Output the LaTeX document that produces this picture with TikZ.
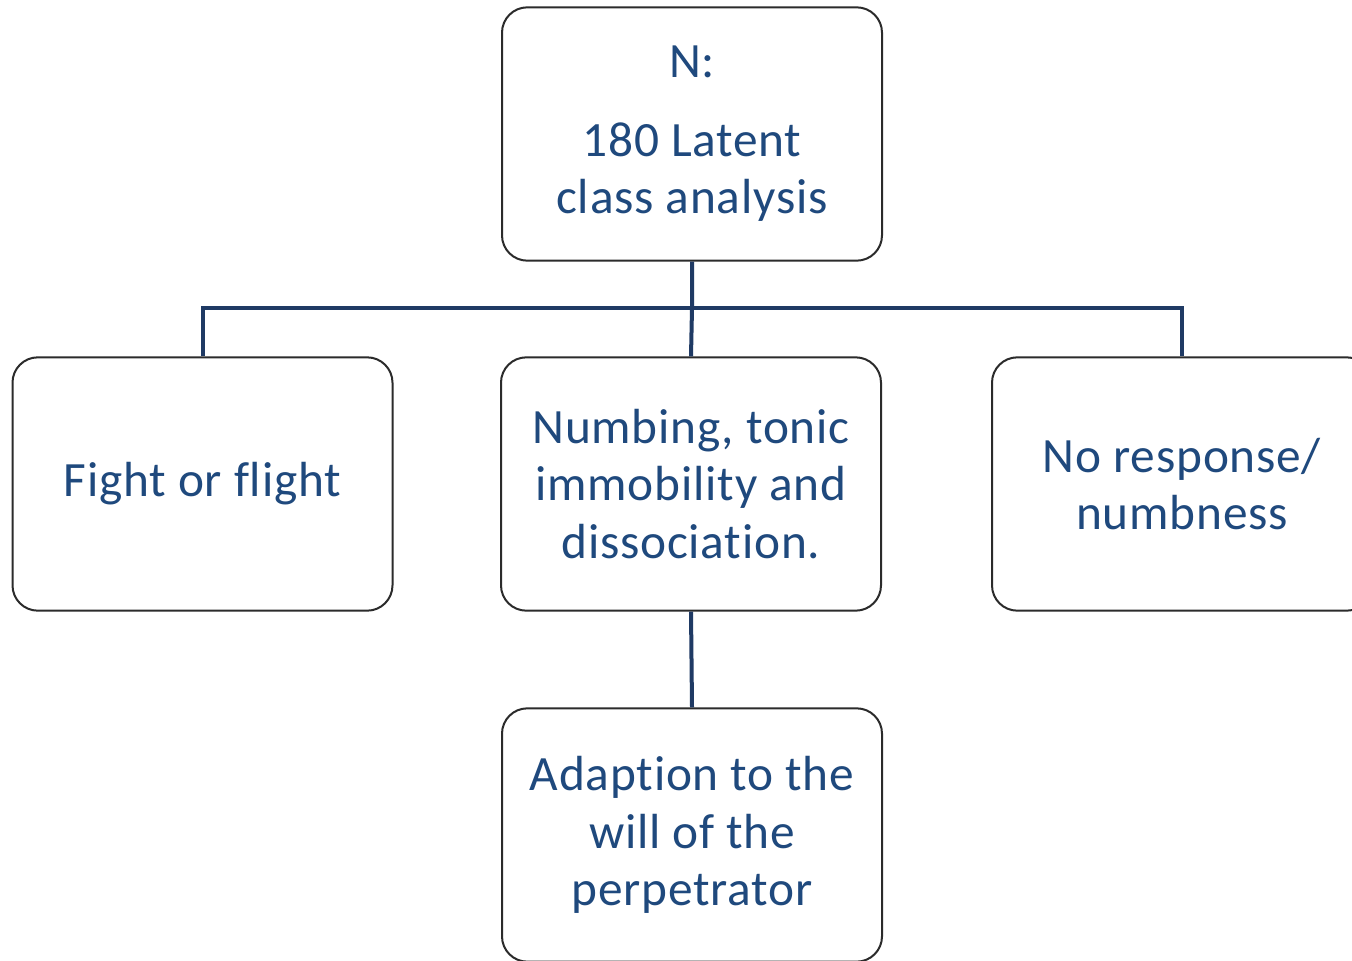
\documentclass[tikz,border=0pt]{standalone}
\usepackage{fontspec}
\setmainfont{Carlito}[LetterSpace=1.6, Ligatures=NoCommon]
\definecolor{textblue}{HTML}{1F497D}
\definecolor{linknavy}{HTML}{1F3A64}
\definecolor{boxedge}{HTML}{2B2B2B}
\tikzset{
  classbox/.style={draw=boxedge, line width=1.5pt, rounded corners=19pt,
    fill=white, minimum width=285pt, minimum height=190pt, inner sep=0pt,
    align=center, text=textblue, font=\fontsize{37}{43}\selectfont},
  link/.style={draw=linknavy, line width=3pt}
}
\begin{document}
\begin{tikzpicture}[x=0.75pt, y=-0.75pt]
  \useasboundingbox (0,0) rectangle (1352,960);
  \clip (0,0) rectangle (1352,960);
  \fill[white] (0,0) rectangle (1352,960);

  % boxes
  \node[classbox] (root) at (692,134) {N:\\[16pt]180 Latent\\class analysis};
  \node[classbox] (fight) at (202.5,484) {Fight or flight};
  \node[classbox] (numb) at (691,484) {Numbing, tonic\\immobility and\\dissociation.};
  \node[classbox] (none) at (1182,484) {No response/\\numbness};
  \node[classbox] (adapt) at (692,835) {Adaption to the\\will of the\\perpetrator};

  % tree connectors
  \coordinate (junction) at (692,308);
  \draw[link] (root.south) -- (junction) -- (numb.north);
  \draw[link] (fight.north) |- (junction) -| (none.north);
  \draw[link] (numb.south) -- (adapt.north);
\end{tikzpicture}
\end{document}
